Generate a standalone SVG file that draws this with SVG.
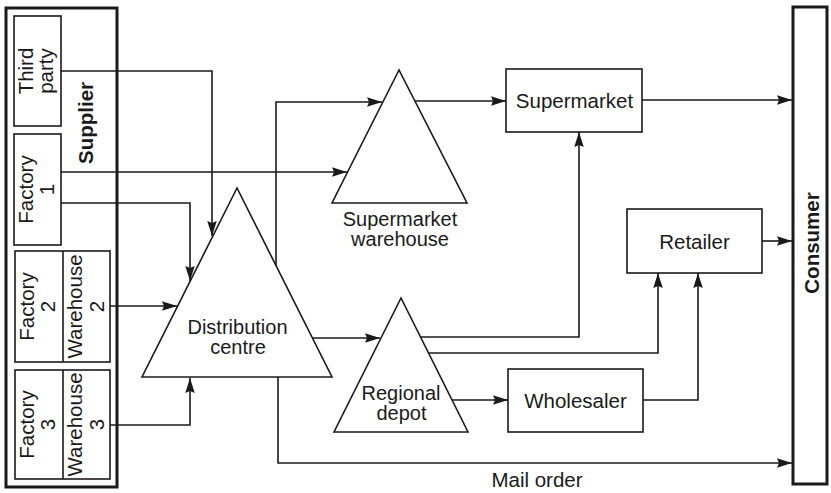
<svg xmlns="http://www.w3.org/2000/svg" width="831" height="493" viewBox="0 0 831 493">
  <style>
    .bg { fill: #ffffff; }
    .box { fill: none; stroke: #1a1a1a; stroke-width: 1.6; }
    .frame { fill: none; stroke: #1a1a1a; stroke-width: 3; }
    .tri { fill: none; stroke: #1a1a1a; stroke-width: 1.6; stroke-linejoin: miter; }
    .lbl { font-family: "Liberation Sans", Arial, sans-serif; font-size: 20.5px; fill: #1a1a1a; text-anchor: middle; }
    .tight { font-size: 20px; }
    .bold { font-weight: bold; }
    .conn path { fill: none; stroke: #1a1a1a; stroke-width: 1.6; marker-end: url(#arrow); }
  </style>
  <defs>
    <marker id="arrow" markerUnits="userSpaceOnUse" markerWidth="16" markerHeight="10" refX="15" refY="4.75" orient="auto">
      <path d="M0,0 L15,4.75 L0,9.5 L2,4.75 z" fill="#1a1a1a"/>
    </marker>
  </defs>
  <rect class="bg" x="0" y="0" width="831" height="493"/>

  <!-- Supplier panel -->
  <g id="supplier">
    <rect class="frame" x="6" y="8" width="111" height="479"/>
    <text class="lbl bold" transform="translate(0,123) rotate(-90)" x="0" y="93">Supplier</text>
  </g>
  <g id="third-party">
    <rect class="box" x="14" y="16" width="47" height="110"/>
    <text class="lbl" transform="translate(0,71) rotate(-90)"><tspan x="0" y="33">Third</tspan><tspan x="0" y="53">party</tspan></text>
  </g>
  <g id="factory-1">
    <rect class="box" x="14" y="134" width="47" height="111"/>
    <text class="lbl" transform="translate(0,189.5) rotate(-90)"><tspan x="0" y="33">Factory</tspan><tspan x="0" y="54">1</tspan></text>
  </g>
  <g id="factory-warehouse-2">
    <rect class="box" x="15" y="251" width="95" height="111"/>
    <line class="box" x1="63" y1="251" x2="63" y2="362"/>
    <text class="lbl" transform="translate(0,306.5) rotate(-90)"><tspan x="0" y="34">Factory</tspan><tspan x="0" y="55">2</tspan></text>
    <text class="lbl" transform="translate(0,306.5) rotate(-90)"><tspan x="0" y="82">Warehouse</tspan><tspan x="0" y="104">2</tspan></text>
  </g>
  <g id="factory-warehouse-3">
    <rect class="box" x="15" y="370" width="95" height="109"/>
    <line class="box" x1="63" y1="370" x2="63" y2="479"/>
    <text class="lbl" transform="translate(0,424.5) rotate(-90)"><tspan x="0" y="34">Factory</tspan><tspan x="0" y="55">3</tspan></text>
    <text class="lbl" transform="translate(0,424.5) rotate(-90)"><tspan x="0" y="82">Warehouse</tspan><tspan x="0" y="104">3</tspan></text>
  </g>

  <!-- Distribution points -->
  <g id="distribution-centre">
    <polygon class="tri" points="237,188 142,377 332,377"/>
    <text class="lbl tight"><tspan x="237.5" y="334">Distribution</tspan><tspan x="238" y="354">centre</tspan></text>
  </g>
  <g id="supermarket-warehouse">
    <polygon class="tri" points="399,70 332,203 467,203"/>
    <text class="lbl tight"><tspan x="400" y="225.5">Supermarket</tspan><tspan x="400" y="245.5">warehouse</tspan></text>
  </g>
  <g id="regional-depot">
    <polygon class="tri" points="401,298 334,432 468,432"/>
    <text class="lbl tight"><tspan x="401" y="400">Regional</tspan><tspan x="401.5" y="420">depot</tspan></text>
  </g>

  <!-- Outlets -->
  <g id="supermarket">
    <rect class="box" x="506" y="69" width="136" height="63"/>
    <text class="lbl" x="574.5" y="108">Supermarket</text>
  </g>
  <g id="retailer">
    <rect class="box" x="627" y="209" width="135" height="64"/>
    <text class="lbl" x="694.5" y="249">Retailer</text>
  </g>
  <g id="wholesaler">
    <rect class="box" x="508" y="369" width="135" height="63"/>
    <text class="lbl" x="575.5" y="408">Wholesaler</text>
  </g>
  <g id="consumer">
    <rect class="frame" x="793" y="7" width="34" height="477"/>
    <text class="lbl bold" transform="translate(0,243) rotate(-90)" x="0" y="819">Consumer</text>
  </g>

  <!-- Flows -->
  <g id="connectors" class="conn">
    <path d="M61,71 H212 V236"/>
    <path d="M61,172 H347"/>
    <path d="M61,203 H190 V281"/>
    <path d="M110,306 H177"/>
    <path d="M110,425 H190 V378"/>
    <path d="M276,266 V102 H382"/>
    <path d="M415,101 H506"/>
    <path d="M642,100 H792"/>
    <path d="M312,338 H380"/>
    <path d="M421,337 H579 V132"/>
    <path d="M428,353 H658 V273"/>
    <path d="M452,400 H508"/>
    <path d="M643,400 H698 V273"/>
    <path d="M762,241 H792"/>
    <path d="M278,377 V463 H792"/>
  </g>
  <text id="mail-order-label" class="lbl" x="537" y="487">Mail order</text>
</svg>
